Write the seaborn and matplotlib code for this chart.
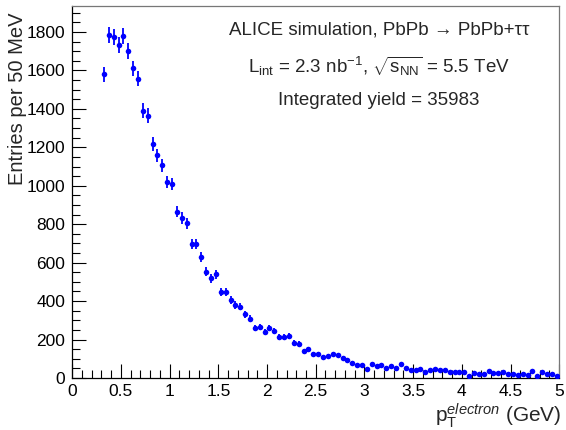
import numpy as np
import pandas as pd
import matplotlib
matplotlib.use("Agg")
import matplotlib.pyplot as plt
import seaborn as sns
from matplotlib.ticker import MultipleLocator

# ---- data ----
bin_low = 0.30
bin_width = 0.05
entries = [1580, 1786, 1772, 1732, 1777, 1700, 1611, 1557, 1391, 1365,
           1217, 1159, 1107, 1018, 1009, 865, 832, 805, 695, 698,
           631, 553, 518, 539, 449, 447, 406, 380, 371, 331,
           309, 258, 264, 241, 258, 244, 212, 212, 219, 182,
           177, 139, 149, 125, 125, 111, 114, 123, 118, 102,
           92, 78, 66, 66, 48, 75, 61, 66, 54, 61,
           54, 73, 50, 43, 43, 45, 33, 42, 47, 43,
           43, 30, 30, 33, 30, 12, 28, 22, 22, 35,
           28, 28, 33, 22, 22, 16, 22, 16, 35, 12,
           30, 19, 22, 12]
x_ticks = [0, 0.5, 1, 1.5, 2, 2.5, 3, 3.5, 4, 4.5, 5]
x_tick_labels = ["0", "0.5", "1", "1.5", "2", "2.5", "3", "3.5", "4", "4.5", "5"]
y_ticks = [0, 200, 400, 600, 800, 1000, 1200, 1400, 1600, 1800]
title_lines = [
    "ALICE simulation, PbPb \u2192 PbPb+\u03c4\u03c4",
    "L$_{\\mathregular{int}}$ = 2.3 nb$^{\\mathregular{-1}}$, "
    "$\\sqrt{\\mathregular{s}_{\\mathregular{NN}}}$ = 5.5 TeV",
    "Integrated yield = 35983",
]

centers = np.round(bin_low + bin_width / 2 + bin_width * np.arange(len(entries)), 4)
df = pd.DataFrame({"pt": centers, "n": entries})
df["err"] = np.sqrt(df["n"])

# ---- style ----
sns.set_theme(style="white")
plt.rcParams["font.family"] = ["Liberation Sans", "DejaVu Sans"]
plt.rcParams["mathtext.fontset"] = "custom"
plt.rcParams["mathtext.rm"] = "Liberation Sans"
plt.rcParams["mathtext.it"] = "Liberation Sans:italic"
plt.rcParams["mathtext.bf"] = "Liberation Sans:bold"

fig = plt.figure(figsize=(5.66, 4.30), dpi=100)
ax = fig.add_axes([0.1277, 0.121, 0.8603, 0.865])

blue = "#0000ff"
ax.errorbar(df["pt"], df["n"], yerr=df["err"], fmt="none", ecolor=blue,
            elinewidth=1.3, capsize=0, zorder=2)
sns.scatterplot(data=df, x="pt", y="n", ax=ax, color=blue, s=16,
                edgecolor=blue, linewidth=0, zorder=3, legend=False)

ax.set_xlim(0, 5)
ax.set_ylim(0, 1935)
ax.set_xticks(x_ticks)
ax.set_xticklabels(x_tick_labels)
ax.set_yticks(y_ticks)
ax.xaxis.set_minor_locator(MultipleLocator(0.1))
ax.yaxis.set_minor_locator(MultipleLocator(50))
ax.tick_params(axis="both", which="both", direction="in", colors="black",
               labelsize=12.5, top=False, right=False, bottom=True, left=True)
ax.tick_params(axis="both", which="major", length=10, width=0.8)
ax.tick_params(axis="both", which="minor", length=5.5, width=0.8)
ax.tick_params(axis="x", pad=4)
ax.tick_params(axis="y", pad=5)

for sp in ax.spines.values():
    sp.set_color("#777777")
    sp.set_linewidth(0.9)
ax.spines["left"].set_color("black")
ax.spines["bottom"].set_color("black")

ax.set_xlabel("")
ax.set_ylabel("Entries per 50 MeV", fontsize=14.5)
ax.yaxis.set_label_coords(-0.092, 0.75)
fig.text(0.992, 0.0,
         "p$_{\\mathregular{T}}^{\\mathit{electron}}$ (GeV)",
         ha="right", va="bottom", fontsize=15)

ys = [0.935, 0.839, 0.747]
for t, yy in zip(title_lines, ys):
    ax.text(0.63, yy, t, transform=ax.transAxes, ha="center", va="center",
            fontsize=13.5)

fig.savefig("out.png", dpi=100)
